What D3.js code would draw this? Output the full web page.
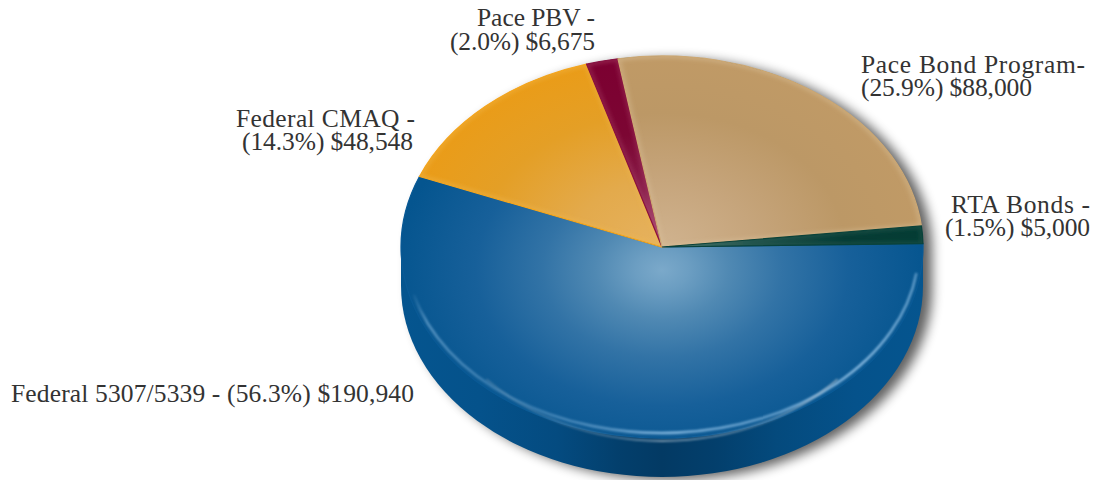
<!DOCTYPE html>
<html><head><meta charset="utf-8">
<script src="https://cdn.jsdelivr.net/npm/d3@7"></script>
<style>html,body{margin:0;padding:0;background:#fff}svg{display:block}</style>
</head><body><svg id="c" width="1093" height="480"></svg>
<script>
const categories = ["Federal 5307/5339","Federal CMAQ","Pace PBV","Pace Bond Program","RTA Bonds"];
const values = [190940,48548,6675,88000,5000];
const labelLines = [
  ["Federal 5307/5339 - (56.3%) $190,940"],
  ["Federal CMAQ -","(14.3%) $48,548"],
  ["Pace PBV -","(2.0%) $6,675"],
  ["Pace Bond Program-","(25.9%) $88,000"],
  ["RTA Bonds -","(1.5%) $5,000"]
];
const sliceStops = [
  [[0,"#7ba9ca"],[.1,"#6c9ec2"],[.25,"#5089b3"],[.45,"#3273a6"],[.7,"#17609a"],[1,"#05558f"]],
  [[0,"#e6b25f"],[.35,"#e3aa4c"],[.7,"#e49f26"],[1,"#ea9c18"]],
  [[0,"#a8507a"],[.3,"#8a1f4b"],[.6,"#7c0633"],[1,"#7c0031"]],
  [[0,"#d0b38f"],[.35,"#c6a57c"],[.7,"#bc9866"],[1,"#c09a66"]],
  [[0,"#5d8580"],[.35,"#1d4f49"],[.7,"#063c35"],[1,"#043c34"]]
];
const edgeColors = ["#0a5a96","#f7a61c","#8a1040","#cda873","#0a423a"];
const innerLight = ["none","#f0b84e","#b04a70","#dcc4a0","#2f6058"];

const cx=662,cy=247,rx=261,ry=191,depth=39,R=100;
const svg=d3.select("#c"), defs=svg.append("defs");

const pie=d3.pie().sort(null).value(d=>d).startAngle(Math.PI/180*89).endAngle(Math.PI/180*449);
const arcs=pie(values);
const arc=d3.arc().innerRadius(0).outerRadius(R);
const tf=`translate(${cx},${cy}) scale(${rx/R},${ry/R})`;

const blur=(id,s)=>defs.append("filter").attr("id",id).attr("x","-30%").attr("y","-30%").attr("width","160%").attr("height","160%")
  .append("feGaussianBlur").attr("stdDeviation",s);
blur("b6",6);blur("b1",1);

sliceStops.forEach((st,i)=>{
  const g=defs.append("radialGradient").attr("id","s"+i).attr("gradientUnits","userSpaceOnUse")
    .attr("cx",0).attr("cy",i===0?12:0).attr("r",R*(i===0?1.02:1));
  st.forEach(s=>g.append("stop").attr("offset",s[0]).attr("stop-color",s[1]));
  defs.append("clipPath").attr("id","cp"+i).append("path").attr("d",arc(arcs[i]));
});
const sideG=defs.append("linearGradient").attr("id","side").attr("gradientUnits","userSpaceOnUse")
  .attr("x1",cx-rx).attr("x2",cx+rx).attr("y1",0).attr("y2",0);
[[0,"#05558f"],[.15,"#05528b"],[.3,"#044b80"],[.42,"#033f6c"],[.5,"#033a64"],[.6,"#033f6c"],[.72,"#044a7d"],[.87,"#05528b"],[1,"#05558f"]]
  .forEach(s=>sideG.append("stop").attr("offset",s[0]).attr("stop-color",s[1]));
const fade=(id,c,a)=>{const g=defs.append("linearGradient").attr("id",id).attr("gradientUnits","userSpaceOnUse")
  .attr("x1",cx-rx).attr("x2",cx+rx).attr("y1",0).attr("y2",0);
  [[0.02,0],[.05,a*.6],[.2,a*.35],[.4,a*.6],[.5,a],[.7,a*.7],[.88,a],[.985,a*.7],[1,0]]
   .forEach(s=>g.append("stop").attr("offset",s[0]).attr("stop-color",c).attr("stop-opacity",s[1]));};
fade("rim1","#8fc0e6",.9);fade("rim2","#a9bccb",.7);

const bodyPath=(dx,dy)=>`M${cx-rx+dx},${cy+dy}A${rx},${ry} 0 0 1 ${cx+rx+dx},${cy+dy}V${cy+depth+dy}A${rx},${ry} 0 0 1 ${cx-rx+dx},${cy+depth+dy}Z`;

// drop shadow
svg.append("path").attr("d",bodyPath(9,3)).attr("fill","#000").attr("opacity",.62).attr("filter","url(#b6)");
// side wall
svg.append("path").attr("d",bodyPath(0,0)).attr("fill","url(#side)");

// top face slices
const face=svg.append("g").attr("transform",tf);
const slice=face.selectAll("g").data(arcs).join("g");
slice.append("path").attr("d",arc).attr("fill",(d,i)=>`url(#s${i})`);
slice.filter((d,i)=>innerLight[i]!=="none").append("path").attr("d",arc)
  .attr("clip-path",d=>`url(#cp${arcs.indexOf(d)})`)
  .attr("fill","none").attr("stroke",d=>innerLight[arcs.indexOf(d)]).attr("stroke-opacity",.55)
  .attr("stroke-width",3.5).attr("vector-effect","non-scaling-stroke").attr("filter","url(#b1)");
slice.append("path").attr("d",arc).attr("fill","none")
  .attr("stroke",d=>edgeColors[arcs.indexOf(d)]).attr("stroke-width",1.2).attr("vector-effect","non-scaling-stroke");

// rim highlights along the lower edge
const rim=(ryy,rxx,stroke,w,a0,a1)=>svg.append("path")
  .attr("d",`M${cx-rxx*Math.cos(a0)},${cy+ryy*Math.sin(a0)}A${rxx},${ryy} 0 0 0 ${cx+rxx*Math.cos(a1)},${cy+ryy*Math.sin(a1)}`)
  .attr("fill","none").attr("stroke",stroke).attr("stroke-width",w).attr("filter","url(#b1)");
rim(186,257,"url(#rim1)",2.6,.26,.14);
rim(194,240,"url(#rim2)",1.8,.75,.75);

// labels: [start x, baseline y, line width] per line
const labelLayout=[
  [[11,402,403]],
  [[236,127,179],[242,150,171]],
  [[477,26,118],[450,50,145]],
  [[861,73,224],[861,96,171]],
  [[951,213,139],[945,236,145]]
];
const labelG=svg.append("g").attr("font-family","'Liberation Serif',serif").attr("font-size",25.5).attr("fill","#333");
labelLines.forEach((ls,i)=>{
  ls.forEach((l,j)=>{
    const p=labelLayout[i][j];
    labelG.append("text").attr("x",p[0]).attr("y",p[1]).attr("textLength",p[2]).attr("lengthAdjust","spacing").text(l);
  });
});
</script></body></html>
